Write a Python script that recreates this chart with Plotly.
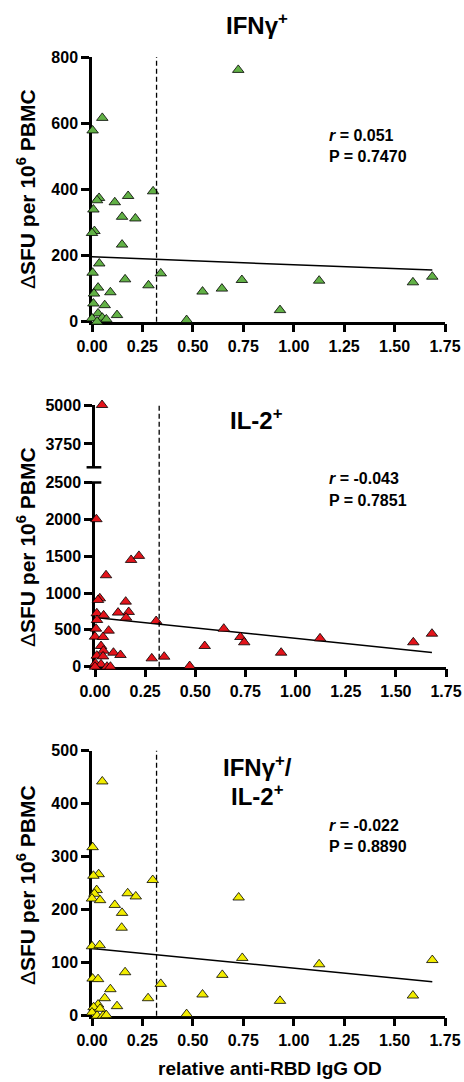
import numpy as np
import plotly.graph_objects as go

W, H = 464, 1082

# ---------------- data ----------------
ifng_x = [0.725, 0.051, 0.003, 0.303, 0.179, 0.035, 0.025, 0.113, 0.007, 0.149, 0.215, 0.012, 0.000,
          0.149, 0.036, 0.003, 0.341, 0.164, 0.743, 0.030, 0.280, 0.091, 0.548, 0.644, 0.010, 0.007,
          0.063, 0.124, 0.030, 0.051, 0.000, 0.071, 0.025, 0.469, 1.126, 1.591, 1.687, 0.932]
ifng_y = [761, 616, 578, 394, 380, 374, 367, 361, 339, 317, 312, 274, 268,
          233, 176, 148, 146, 128, 126, 103, 110, 89, 91, 100, 85, 55,
          50, 20, 25, 12, 10, 7, 0, 5, 124, 119, 136, 35]

il2_x = [0.035, 0.007, 0.180, 0.219, 0.055, 0.024, 0.015, 0.153, 0.168, 0.115, 0.155, 0.009, 0.043,
         0.010, 0.305, 0.642, 0.005, 0.068, 0.000, 0.040, 0.725, 0.744, 0.547, 0.030, 0.042, 0.092,
         0.127, 0.009, 0.345, 0.283, 0.040, 0.002, 0.030, 0.060, 0.077, 0.000, 0.472, 1.122, 0.928,
         1.587, 1.680]
il2_y = [5000, 2002, 1449, 1504, 1241, 928, 906, 883, 743, 734, 666, 725, 697,
         634, 620, 516, 516, 489, 408, 403, 403, 331, 281, 281, 217, 190,
         159, 150, 136, 113, 140, 45, 32, 0, 0, 0, 9, 385, 190,
         331, 448]

dbl_x = [0.051, 0.003, 0.301, 0.033, 0.007, 0.023, 0.012, 0.000, 0.040, 0.177, 0.217, 0.113, 0.149,
         0.147, 0.000, 0.038, 0.727, 0.745, 0.164, 0.003, 0.030, 0.646, 0.091, 0.341, 0.063, 0.278,
         0.548, 0.124, 0.030, 0.008, 0.040, 0.000, 0.025, 0.055, 0.071, 0.469, 1.126, 0.932, 1.591,
         1.687]
dbl_y = [442, 318, 256, 267, 264, 237, 230, 221, 218, 231, 225, 209, 194,
         166, 131, 133, 223, 109, 82, 70, 69, 77, 50, 60, 33, 33,
         40, 18, 21, 16, 13, 6, 0, 0, 1, 3, 97, 28, 38,
         105]

# regression lines (intercept, slope)
ifng_fit = [196, -23.7]
il2_fit = [667, -283]
dbl_fit = [127, -37.3]

stats_r = ["0.051", "-0.043", "-0.022"]
stats_p = ["0.7470", "0.7851", "0.8890"]
cutoff = 0.32

x_ticks = [0, 0.25, 0.5, 0.75, 1.0, 1.25, 1.5, 1.75]

GREEN, RED, YELLOW = "#62b146", "#e3141b", "#f2ec00"
FONT = "Liberation Sans, Arial, sans-serif"


def px_x(p):
    return p / W


def px_y(p):
    return 1 - p / H


fig = go.Figure()


def add_points(x, y, color, xa, ya):
    fig.add_trace(go.Scatter(
        x=x, y=y, mode="markers", xaxis=xa, yaxis=ya, cliponaxis=False,
        marker=dict(symbol="triangle-up", size=10, color=color,
                    line=dict(color="black", width=0.8)),
        showlegend=False, hoverinfo="x+y"))


def add_fit(x, fit, xa, ya):
    xs = np.array([min(x), max(x)])
    fig.add_trace(go.Scatter(
        x=xs, y=fit[0] + fit[1] * xs, mode="lines", xaxis=xa, yaxis=ya,
        line=dict(color="black", width=1.5), showlegend=False, hoverinfo="skip",
        cliponaxis=False))


# panel 1
add_fit(ifng_x, ifng_fit, "x", "y")
add_points(ifng_x, ifng_y, GREEN, "x", "y")

# panel 2 (broken axis)
il2_xa = np.array(il2_x)
il2_ya = np.array(il2_y)
low = il2_ya <= 2500
add_fit(il2_x, il2_fit, "x2", "y2")
add_points(il2_xa[low], il2_ya[low], RED, "x2", "y2")
add_points(il2_xa[~low], il2_ya[~low], RED, "x2", "y3")

# panel 3
add_fit(dbl_x, dbl_fit, "x3", "y4")
add_points(dbl_x, dbl_y, YELLOW, "x3", "y4")

axis_common = dict(showline=True, linewidth=2.5, linecolor="black", ticks="outside",
                   ticklen=8, tickwidth=2.5, tickcolor="black", showgrid=False,
                   zeroline=False, layer="below traces", automargin=False,
                   tickfont=dict(family=FONT, size=16, color="black", weight="bold"))

xdom1 = [px_x(92), px_x(445)]
xdom2 = [px_x(95), px_x(446)]
ydom1 = [px_y(321.7), px_y(57)]
ydom2_low = [px_y(666.7), px_y(482.5)]
ydom2_up = [px_y(467.3), px_y(405)]
ydom3 = [px_y(1015.7), px_y(750.7)]

xcommon = dict(range=[0, 1.75], tickvals=x_ticks, tickformat=".2f", **axis_common)

fig.update_layout(
    template="none",
    width=W, height=H, margin=dict(l=0, r=0, t=0, b=0, pad=0),
    paper_bgcolor="white", plot_bgcolor="white",
    font=dict(family=FONT, color="black"),
    xaxis=dict(domain=xdom1, anchor="y", **xcommon),
    yaxis=dict(domain=ydom1, anchor="x", range=[0, 800], tickvals=[0, 200, 400, 600, 800], **axis_common),
    xaxis2=dict(domain=xdom2, anchor="y2", **xcommon),
    yaxis2=dict(domain=ydom2_low, anchor="x2", range=[0, 2500],
                tickvals=[0, 500, 1000, 1500, 2000, 2500], **axis_common),
    yaxis3=dict(domain=ydom2_up, anchor="x2", range=[3000, 5000],
                tickvals=[3750, 5000], **axis_common),
    xaxis3=dict(domain=xdom1, anchor="y4", **xcommon),
    yaxis4=dict(domain=ydom3, anchor="x3", range=[0, 500],
                tickvals=[0, 100, 200, 300, 400, 500], **axis_common),
)

# dashed cutoff lines
dash = dict(color="black", width=1.3, dash="5px,3px")
fig.add_shape(type="line", xref="x", yref="y domain", x0=cutoff, x1=cutoff, y0=0, y1=1, line=dash)
fig.add_shape(type="line", xref="x2", yref="paper", x0=cutoff, x1=cutoff,
              y0=ydom2_low[0], y1=ydom2_up[1], line=dash)
fig.add_shape(type="line", xref="x3", yref="y4 domain", x0=cutoff, x1=cutoff, y0=0, y1=1, line=dash)

# axis-break caps
cap = dict(color="black", width=2.5)
fig.add_shape(type="line", xref="x2 domain", yref="y2 domain", x0=-0.024, x1=0.018, y0=1, y1=1, line=cap)
fig.add_shape(type="line", xref="x2 domain", yref="y3 domain", x0=-0.024, x1=0.018, y0=0, y1=0, line=cap)


def ann(text, x, y, size, xanchor="center", angle=0):
    fig.add_annotation(text=text, x=px_x(x), y=px_y(y), xref="paper", yref="paper",
                       xanchor=xanchor, yanchor="middle", showarrow=False, textangle=angle,
                       font=dict(family=FONT, size=size, color="black"))


# titles
ann("<b>IFNγ<sup>+</sup></b>", 257, 24, 24)
ann("<b>IL-2<sup>+</sup></b>", 256, 419, 24)
ann("<b>IFNγ<sup>+</sup>/</b>", 257, 766, 24)
ann("<b>IL-2<sup>+</sup></b>", 257, 795, 24)

# stats
for (ry, py), r, p in zip([(135, 156), (479, 500), (825, 846)], stats_r, stats_p):
    ann("<b><i>r</i> = " + r + "</b>", 327, ry, 16, xanchor="left")
    ann("<b>P = " + p + "</b>", 327, py, 16, xanchor="left")

# y titles
ytitle = "Δ<b>SFU per 10<sup>6</sup> PBMC</b>"
for cy in (189, 547, 885):
    ann(ytitle, 26, cy, 21, angle=-90)

# x title
ann("<b>relative anti-RBD IgG OD</b>", 270, 1068, 19)

# the page's default 8px body margin would push the 464x1082 figure out of the window
fig.write_html("out.html", config={"displayModeBar": False},
               post_script="document.body.style.margin='0px';document.body.style.overflow='hidden';")
